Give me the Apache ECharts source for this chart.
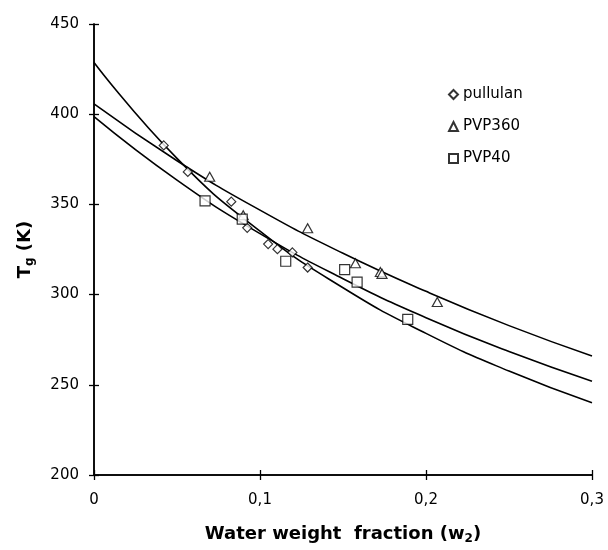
<!DOCTYPE html>
<html>
<head>
<meta charset="utf-8">
<script src="https://cdn.jsdelivr.net/npm/echarts@6/dist/echarts.min.js"></script>
<style>
  html, body { margin: 0; padding: 0; background: #fff; }
  #chart { width: 608px; height: 550px; }
</style>
</head>
<body>
<div id="chart"></div>
<script>
// measured points, [w2, Tg]
const pullulanPts = [
  [0.042, 382.7], [0.0565, 368], [0.0827, 351.5], [0.0923, 337],
  [0.1049, 328], [0.1105, 325.2], [0.1195, 323.4], [0.1287, 315]
];
const pvp360Pts = [
  [0.0697, 365.3], [0.0899, 344], [0.1287, 336.8], [0.1575, 317.4],
  [0.1725, 312.5], [0.1735, 311.5], [0.2068, 295.9]
];
const pvp40Pts = [
  [0.0669, 351.9], [0.0893, 341.8], [0.1155, 318.5], [0.151, 313.8],
  [0.1585, 306.9], [0.189, 286.3]
];

// fitted curves
const curveX = [0, 0.05, 0.1, 0.15, 0.2, 0.25, 0.3];
const pullulanFit = [428.7, 375.5, 335.2, 303.8, 278.5, 257.6, 240];
const pvp360Fit = [405.7, 374.2, 346.8, 322.9, 301.8, 282.8, 266];
const pvp40Fit = [398.7, 363.5, 333.8, 308.8, 287.2, 268.4, 252];

const xTicks = ['0', '0,1', '0,2', '0,3'];

const font = 'DejaVu Sans, Liberation Sans, sans-serif';

const pair = (xs, ys) => xs.map((x, i) => [x, ys[i]]);

const chart = echarts.init(document.getElementById('chart'));

const markerStyle = { color: '#fff', borderColor: '#000', borderWidth: 1.2 };
const fitLine = (name, ys) => ({
  name: name,
  type: 'line',
  data: pair(curveX, ys),
  smooth: true,
  showSymbol: false,
  silent: true,
  lineStyle: { color: '#000', width: 1.6 },
  z: 2
});

const tickStyle = { color: '#000', width: 1.3 };
const axisBase = {
  type: 'value',
  axisLine: { show: true, lineStyle: { color: '#000', width: 1.5 } },
  splitLine: { show: false }
};
const titleRich = {
  b: { fontFamily: font, fontSize: 18, fontWeight: 'bold', color: '#000', lineHeight: 22 },
  s: { fontFamily: font, fontSize: 12, fontWeight: 'bold', color: '#000', lineHeight: 22, verticalAlign: 'bottom', padding: [8, 0, 0, 0] }
};

chart.setOption({
  animation: false,
  backgroundColor: '#fff',
  grid: { left: 94, right: 16, top: 24, bottom: 70 },
  legend: {
    orient: 'vertical',
    left: 443,
    top: 80,
    itemWidth: 9,
    itemHeight: 9,
    itemGap: 13,
    textStyle: { fontFamily: font, fontSize: 15, color: '#000', lineHeight: 19 },
    data: ['pullulan', 'PVP360', 'PVP40']
  },
  xAxis: [
    Object.assign({}, axisBase, {
      min: 0, max: 0.3, interval: 0.1, position: 'bottom',
      axisTick: { show: true, length: 5, lineStyle: tickStyle },
      axisLabel: {
        margin: 18, color: '#000', fontFamily: font, fontSize: 15,
        formatter: v => xTicks[Math.round(v * 10)]
      },
      name: '{b|Water weight  fraction (w}{s|2}{b|)}',
      nameLocation: 'middle',
      nameGap: 48,
      nameTextStyle: { rich: titleRich }
    }),
    Object.assign({}, axisBase, {
      min: 0, max: 0.3, interval: 0.1, position: 'bottom',
      axisTick: { show: true, inside: true, length: 5, lineStyle: tickStyle },
      axisLabel: { show: false }
    })
  ],
  yAxis: [
    Object.assign({}, axisBase, {
      min: 200, max: 450, interval: 50, position: 'left',
      axisTick: { show: true, length: 5, lineStyle: tickStyle },
      axisLabel: { margin: 15, color: '#000', fontFamily: font, fontSize: 15 },
      name: '{b|T}{s|g}{b| (K)}',
      nameLocation: 'middle',
      nameRotate: 90,
      nameGap: 58,
      nameTextStyle: { rich: titleRich }
    }),
    Object.assign({}, axisBase, {
      min: 200, max: 450, interval: 50, position: 'left',
      axisTick: { show: true, inside: true, length: 5, lineStyle: tickStyle },
      axisLabel: { show: false }
    })
  ],
  series: [
    fitLine('pullulan fit', pullulanFit),
    fitLine('PVP360 fit', pvp360Fit),
    fitLine('PVP40 fit', pvp40Fit),
    {
      name: 'pullulan', type: 'scatter', data: pullulanPts,
      symbol: 'diamond', symbolSize: [9, 9], itemStyle: markerStyle, z: 5
    },
    {
      name: 'PVP360', type: 'scatter', data: pvp360Pts,
      symbol: 'triangle', symbolSize: [10, 9], itemStyle: markerStyle, z: 5
    },
    {
      name: 'PVP40', type: 'scatter', data: pvp40Pts,
      symbol: 'rect', symbolSize: [10, 10], itemStyle: markerStyle, z: 5
    }
  ]
});
</script>
</body>
</html>
